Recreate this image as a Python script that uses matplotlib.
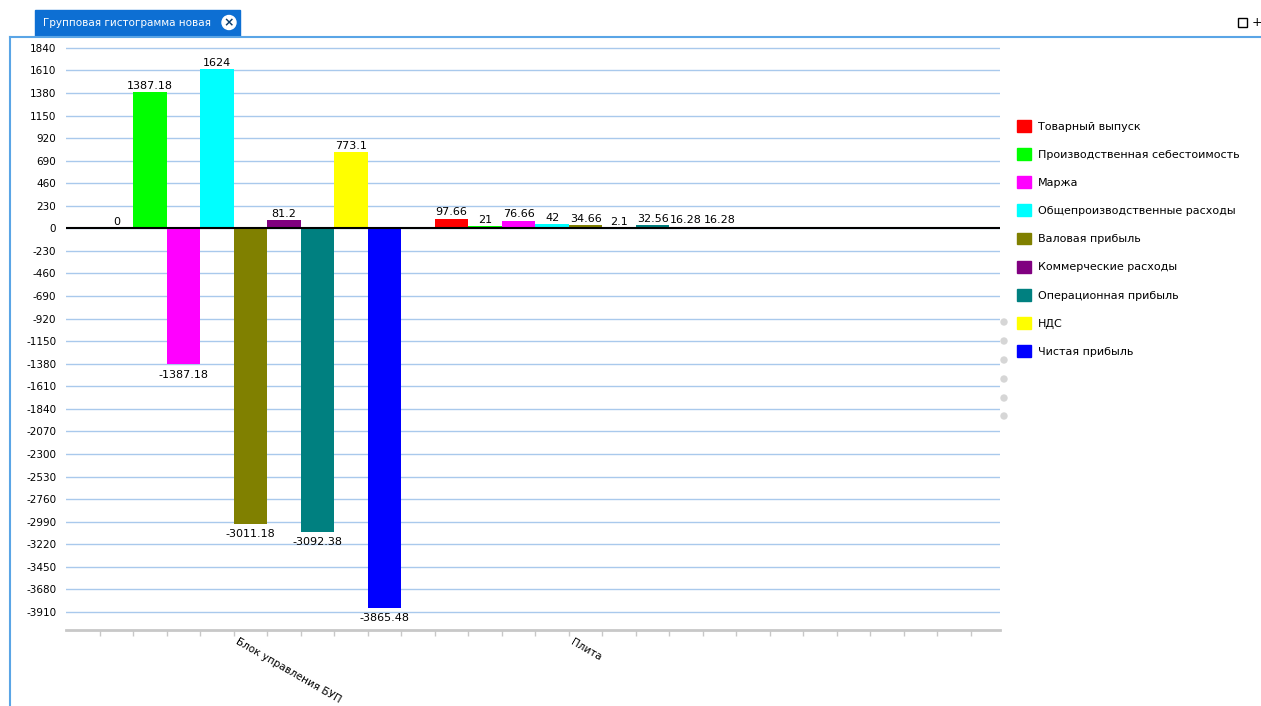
import matplotlib
matplotlib.use('Agg')
import matplotlib.pyplot as plt
import matplotlib.patches as mpatches
from matplotlib.transforms import ScaledTranslation
import numpy as np

# --- data ---
groups = ["Блок управления БУП", "Плита"]
series = ["Товарный выпуск", "Производственная себестоимость", "Маржа",
          "Общепроизводственные расходы", "Валовая прибыль", "Коммерческие расходы",
          "Операционная прибыль", "НДС", "Чистая прибыль"]
colors = ["#ff0000", "#00ff00", "#ff00ff", "#00ffff", "#808000",
          "#800080", "#008080", "#ffff00", "#0000ff"]
values_bup = [0, 1387.18, -1387.18, 1624, -3011.18, 81.2, -3092.38, 773.1, -3865.48]
values_plita = [97.66, 21, 76.66, 42, 34.66, 2.1, 32.56, 16.28, 16.28]
yticks = np.arange(-3910, 1841, 230)

plt.rcParams['font.family'] = ['DejaVu Sans']
W, H = 1261, 706
fig = plt.figure(figsize=(W / 100, H / 100), dpi=100)

def fx(x):
    return x / W

def fy(y):
    return 1 - y / H

# axes placed in pixel terms
ax = fig.add_axes([fx(66), fy(630), fx(1000) - fx(66), fy(38) - fy(630)])

n = len(series)
bw = 0.1
data = np.array([values_bup, values_plita])
x0 = np.arange(len(groups))
for k in range(n):
    xs = x0 + (k - (n - 1) / 2) * bw
    vals = data[:, k]
    bars = ax.bar(xs, vals, width=bw, color=colors[k], label=series[k],
                  edgecolor='none', zorder=3)
    for b, v in zip(bars, vals):
        cx = b.get_x() + b.get_width() / 2
        if v >= 0:
            ax.annotate('{:g}'.format(v), (cx, v), xytext=(0, 1), textcoords='offset points',
                        ha='center', va='bottom', fontsize=8, zorder=5)
        else:
            ax.annotate('{:g}'.format(v), (cx, v), xytext=(0, -4), textcoords='offset points',
                        ha='center', va='top', fontsize=8, zorder=5)

ax.axhline(0, color='black', lw=1.5, zorder=4)

ax.set_xlim(-0.551, 2.237)
ax.set_ylim(-4094, 1940)
ax.set_yticks(yticks)
ax.set_yticklabels([str(t) for t in yticks], fontsize=7.5)
ax.tick_params(axis='y', length=0, pad=7)
ax.grid(axis='y', color='#a9c9ec', lw=1, zorder=0)
ax.set_axisbelow(True)

ax.set_xticks(x0)
ax.set_xticklabels(groups, rotation=-30, ha='left', va='top', rotation_mode='anchor', fontsize=7.5)
ax.set_xticks(np.arange(-0.45, 2.24, bw), minor=True)
ax.tick_params(axis='x', which='major', length=0, pad=7)
ax.tick_params(axis='x', which='minor', length=4, color='#c8c8c8', width=1)
for lbl in ax.get_xticklabels():
    lbl.set_transform(lbl.get_transform() + ScaledTranslation(-0.12, 0.03, fig.dpi_scale_trans))

for s in ['left', 'top', 'right']:
    ax.spines[s].set_visible(False)
ax.spines['bottom'].set_color('#c8c8c8')
ax.spines['bottom'].set_linewidth(2)

# legend
handles = [mpatches.Patch(color=c, label=s) for c, s in zip(colors, series)]
fig.legend(handles=handles, loc='upper left', bbox_to_anchor=(fx(1017), fy(120)),
           frameon=False, fontsize=8, handlelength=1.26, handleheight=1.26,
           handletextpad=0.6, labelspacing=1.47, borderpad=0, borderaxespad=0)

# window chrome: tab, frame, icons
frame_col = '#5aa5e6'
fig.add_artist(plt.Line2D([fx(10), fx(1261)], [fy(37), fy(37)], color=frame_col, lw=1.5))
fig.add_artist(plt.Line2D([fx(10), fx(10)], [fy(37), fy(706)], color=frame_col, lw=1.5))
fig.add_artist(mpatches.Rectangle((fx(35), fy(36)), fx(240) - fx(35), fy(10) - fy(36),
                                  color='#0d6fd3', transform=fig.transFigure))
fig.text(fx(43), fy(23), "Групповая гистограмма новая", color='white', fontsize=7.5,
         ha='left', va='center')
fig.add_artist(mpatches.Ellipse((fx(229), fy(22.5)), 14 / W, 14 / H, color='white',
                                transform=fig.transFigure))
fig.text(fx(229), fy(22.5), "×", color='#0d3d6b', fontsize=9, fontweight='bold',
         ha='center', va='center')
fig.add_artist(mpatches.Rectangle((fx(1238), fy(27)), 9 / W, 9 / H, fill=False,
                                  edgecolor='black', lw=1, transform=fig.transFigure))
fig.text(fx(1252), fy(22.5), "+", color='black', fontsize=9, ha='left', va='center')
for yy in [322, 341, 360, 379, 398, 416]:
    fig.add_artist(mpatches.Ellipse((fx(1004), fy(yy)), 6 / W, 6 / H, color='#d6d6d6',
                                    transform=fig.transFigure))

fig.savefig('out.png', dpi=100)
